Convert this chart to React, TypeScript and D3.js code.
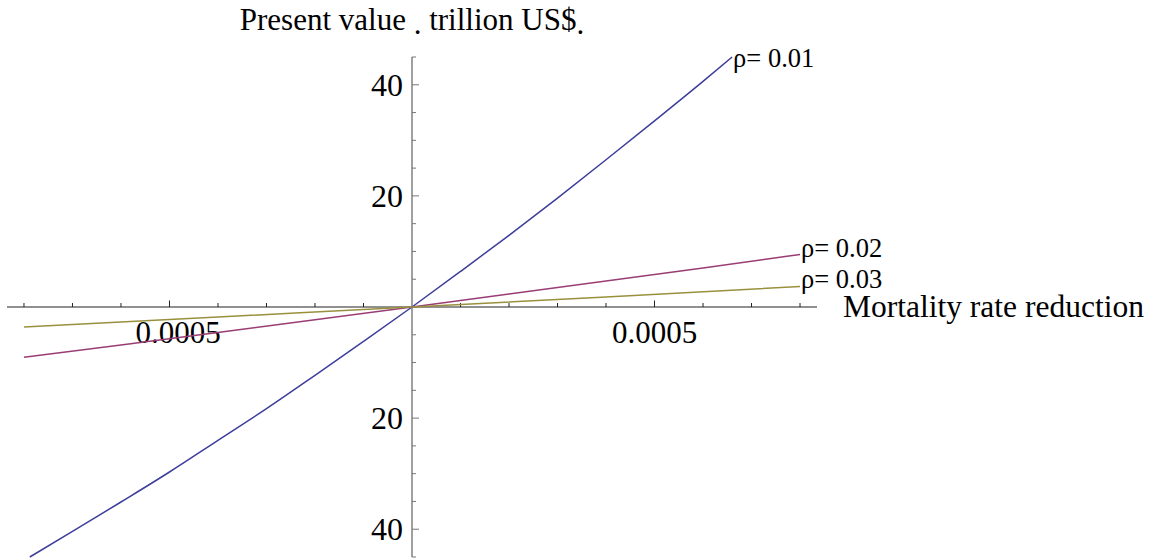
import React from "react";
import * as d3 from "d3";

const W = 1153;
const H = 560;

// Series data (x: mortality rate reduction, y: trillion US$)
const rho01X = [-0.000788, -0.0007, -0.0006, -0.0005, -0.0004, -0.0003, -0.0002, -0.0001, 0, 0.0001, 0.0002, 0.0003, 0.0004, 0.0005, 0.0006, 0.00066];
const rho01Y = [-45, -40.4, -35.1, -29.7, -24.0, -18.3, -12.3, -6.2, 0, 6.4, 12.9, 19.6, 26.5, 33.5, 40.6, 45];
const rho02X = [-0.0008, -0.0006, -0.0004, -0.0002, 0, 0.0002, 0.0004, 0.0006, 0.0008];
const rho02Y = [-9.06, -6.83, -4.57, -2.3, 0, 2.32, 4.67, 7.04, 9.44];
const rho03X = [-0.0008, -0.0004, 0, 0.0004, 0.0008];
const rho03Y = [-3.6, -1.8, 0, 1.82, 3.68];

const seriesNames = ["ρ= 0.01", "ρ= 0.02", "ρ= 0.03"];
const seriesColors = ["#3d3d9c", "#993d74", "#99903d"];

const xMinorTicks = [-0.0008, -0.0007, -0.0006, -0.0005, -0.0004, -0.0003, -0.0002, -0.0001, 0.0001, 0.0002, 0.0003, 0.0004, 0.0005, 0.0006, 0.0007, 0.0008];
const xMajorTicks = [-0.0005, 0.0005];
const xTickLabels = ["0.0005", "0.0005"];
const yMinorTicks = [-45, -35, -30, -25, -15, -10, -5, 5, 10, 15, 25, 30, 35, 45];
const yMajorTicks = [-40, -20, 20, 40];
const yTickLabels = ["40", "20", "20", "40"];

const titleText = ["Present value ", ".", " trillion US$", "."];
const xAxisTitle = "Mortality rate reduction";

const FONT = "'Liberation Serif', 'Times New Roman', serif";

export default function App() {
  const x = d3.scaleLinear().domain([-0.000835, 0.000835]).range([7, 817]);
  const y = d3.scaleLinear().domain([-45, 45]).range([557, 57]);
  const line = d3
    .line<[number, number]>()
    .x((d) => x(d[0]))
    .y((d) => y(d[1]))
    .curve(d3.curveMonotoneX);

  const series = [
    { xs: rho01X, ys: rho01Y },
    { xs: rho02X, ys: rho02Y },
    { xs: rho03X, ys: rho03Y },
  ];
  const labelDy = [10, 2.7, 1.8];

  const x0 = x(0);
  const y0 = y(0);

  return (
    <svg
      width={W}
      height={H}
      style={{ position: "absolute", left: 0, top: 0, background: "#fff" }}
      fontFamily={FONT}
    >
      {/* x axis */}
      <line x1={x.range()[0]} x2={x.range()[1]} y1={y0} y2={y0} stroke="#222" strokeWidth={1.2} />
      {xMinorTicks.map((t, i) => (
        <line key={"xm" + i} x1={x(t)} x2={x(t)} y1={y0} y2={y0 - (xMajorTicks.includes(t) ? 6.5 : 4)} stroke="#222" strokeWidth={1} />
      ))}
      {xMajorTicks.map((t, i) => (
        <text
          key={"xl" + i}
          x={x(t)}
          y={343}
          dx={t < 0 ? "0.282em" : 0}
          fontSize={31}
          textAnchor="middle"
          fill="#000"
        >
          {xTickLabels[i]}
        </text>
      ))}
      {/* y axis */}
      <line x1={x0} x2={x0} y1={y.range()[1]} y2={y.range()[0]} stroke="#777" strokeWidth={1.4} />
      {yMinorTicks.map((t, i) => (
        <line key={"ym" + i} x1={x0} x2={x0 + 4} y1={y(t)} y2={y(t)} stroke="#777" strokeWidth={1} />
      ))}
      {yMajorTicks.map((t, i) => (
        <g key={"yM" + i}>
          <line x1={x0} x2={x0 + 7} y1={y(t)} y2={y(t)} stroke="#777" strokeWidth={1} />
          <text x={x0 - 9} y={y(t)} dy="0.34em" fontSize={32} textAnchor="end" fill="#000">
            {yTickLabels[i]}
          </text>
        </g>
      ))}

      {/* series */}
      {series.map((s, i) => {
        const pts = s.xs.map((v, j) => [v, s.ys[j]] as [number, number]);
        const last = pts[pts.length - 1];
        return (
          <g key={"s" + i}>
            <path d={line(pts) || ""} fill="none" stroke={seriesColors[i]} strokeWidth={1.5} />
            <text
              x={x(last[0]) + 1}
              y={y(last[1]) + labelDy[i]}
              fontSize={26.5}
              fill="#000"
            >
              {seriesNames[i]}
            </text>
          </g>
        );
      })}

      {/* title */}
      <text x={x0} y={30} fontSize={31} textAnchor="middle" fill="#000">
        <tspan>{titleText[0]}</tspan>
        <tspan dy={4}>{titleText[1]}</tspan>
        <tspan dy={-4}>{titleText[2]}</tspan>
        <tspan dy={4}>{titleText[3]}</tspan>
      </text>
      {/* x axis title */}
      <text x={843} y={y0} dy="0.32em" fontSize={31.5} fill="#000">
        {xAxisTitle}
      </text>
    </svg>
  );
}
